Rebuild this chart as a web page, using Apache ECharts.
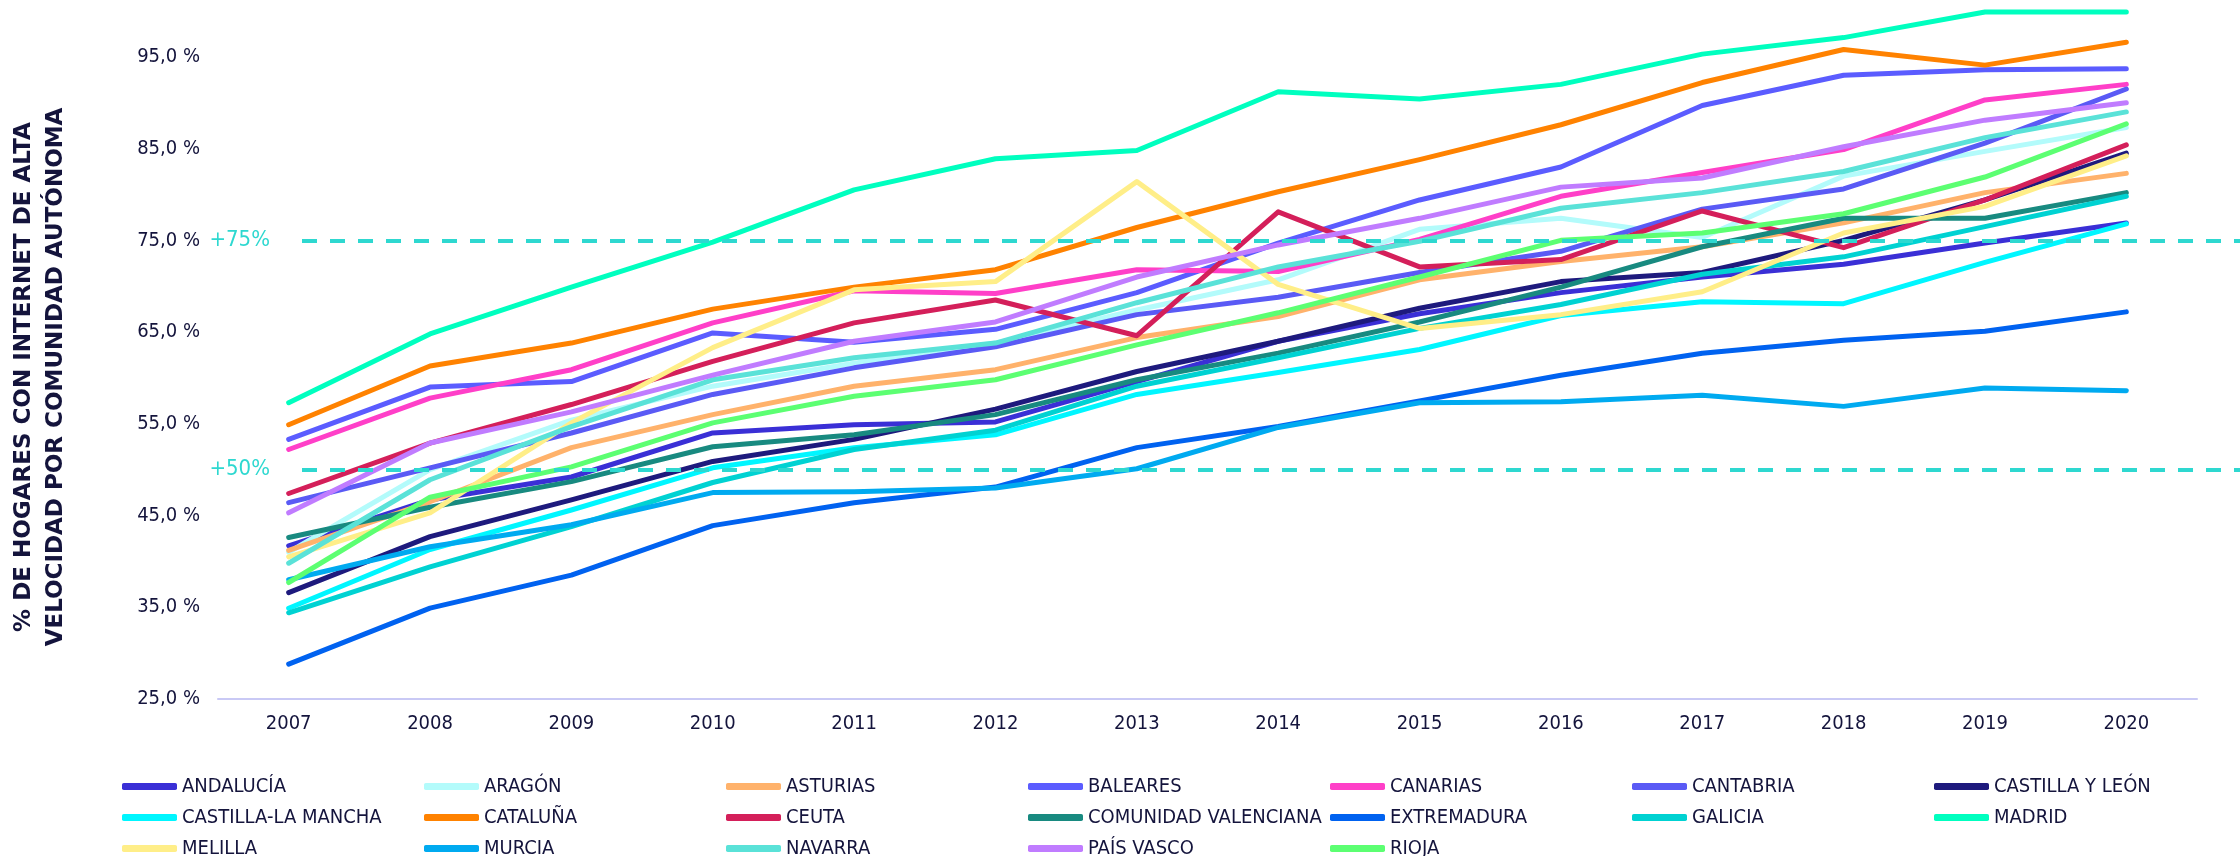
<!DOCTYPE html>
<html>
<head>
<meta charset="utf-8">
<script src="https://cdn.jsdelivr.net/npm/echarts/dist/echarts.min.js"></script>
<style>
    html, body { margin: 0; padding: 0; background: #fff; }
    #chart { width: 2240px; height: 856px; }
</style>
</head>
<body>
<div id="chart"></div>
<script>
// años
const years = ['2007', '2008', '2009', '2010', '2011', '2012', '2013', '2014', '2015', '2016', '2017', '2018', '2019', '2020']

// % hogares con internet de alta velocidad
const andalucia = [41.7, 46.7, 49.2, 54.0, 54.9, 55.2, 59.6, 64.0, 67.0, 69.3, 71.0, 72.4, 74.7, 76.9]
const aragon = [41.0, 50.0, 55.4, 59.1, 61.6, 63.8, 67.4, 70.7, 76.2, 77.4, 75.3, 82.0, 84.7, 87.3]
const asturias = [41.2, 46.5, 52.4, 56.0, 59.1, 60.9, 64.4, 66.7, 70.7, 72.7, 74.3, 76.9, 80.2, 82.3]
const baleares = [53.3, 59.0, 59.6, 64.9, 63.9, 65.3, 69.3, 74.7, 79.4, 83.0, 89.7, 93.0, 93.6, 93.7]
const canarias = [52.2, 57.8, 60.9, 66.0, 69.5, 69.2, 71.8, 71.6, 75.1, 79.8, 82.4, 84.9, 90.3, 92.0]
const cantabria = [46.4, 50.2, 54.0, 58.2, 61.1, 63.4, 66.9, 68.8, 71.5, 73.8, 78.4, 80.6, 85.6, 91.5]
const castillaLeon = [36.6, 42.7, 46.7, 50.9, 53.3, 56.6, 60.7, 64.0, 67.6, 70.5, 71.5, 75.0, 79.4, 84.5]
const castillaMancha = [34.9, 41.3, 45.6, 50.2, 52.4, 53.8, 58.2, 60.6, 63.1, 66.8, 68.3, 68.1, 72.6, 76.8]
const cataluna = [54.9, 61.3, 63.8, 67.5, 69.9, 71.8, 76.4, 80.3, 83.8, 87.6, 92.2, 95.8, 94.1, 96.6]
const ceuta = [47.4, 52.9, 57.1, 61.8, 66.0, 68.5, 64.6, 78.1, 72.1, 72.9, 78.2, 74.2, 79.4, 85.4]
const valenciana = [42.6, 45.9, 48.7, 52.5, 53.8, 56.0, 59.8, 62.7, 66.1, 69.9, 74.3, 77.4, 77.4, 80.2]
const extremadura = [28.8, 34.9, 38.5, 43.9, 46.4, 48.1, 52.4, 54.7, 57.5, 60.3, 62.7, 64.1, 65.1, 67.2]
const galicia = [34.4, 39.4, 43.8, 48.6, 52.2, 54.3, 59.1, 62.2, 65.4, 68.0, 71.3, 73.2, 76.5, 79.8]
const madrid = [57.3, 64.8, 69.9, 74.8, 80.5, 83.9, 84.8, 91.2, 90.4, 92.0, 95.3, 97.1, 99.9, 99.9]
const melilla = [40.5, 45.3, 55.1, 63.3, 69.6, 70.5, 81.4, 70.2, 65.4, 66.9, 69.4, 75.8, 78.7, 84.2]
const murcia = [38.0, 41.6, 44.0, 47.5, 47.6, 48.0, 50.1, 54.6, 57.3, 57.4, 58.1, 56.9, 58.9, 58.6]
const navarra = [39.8, 48.9, 54.7, 59.8, 62.2, 63.8, 68.2, 72.1, 74.9, 78.5, 80.2, 82.5, 86.2, 89.0]
const paisVasco = [45.3, 52.9, 56.3, 60.3, 64.0, 66.1, 71.0, 74.5, 77.4, 80.8, 81.8, 85.2, 88.1, 90.0]
const rioja = [37.7, 47.0, 50.3, 55.1, 58.0, 59.8, 63.6, 67.1, 71.0, 75.0, 75.8, 77.9, 81.9, 87.7]

const regionNames = ['ANDALUCÍA', 'ARAGÓN', 'ASTURIAS', 'BALEARES', 'CANARIAS', 'CANTABRIA', 'CASTILLA Y LEÓN',
    'CASTILLA-LA MANCHA', 'CATALUÑA', 'CEUTA', 'COMUNIDAD VALENCIANA', 'EXTREMADURA', 'GALICIA', 'MADRID',
    'MELILLA', 'MURCIA', 'NAVARRA', 'PAÍS VASCO', 'RIOJA']
const regionValues = [andalucia, aragon, asturias, baleares, canarias, cantabria, castillaLeon,
    castillaMancha, cataluna, ceuta, valenciana, extremadura, galicia, madrid,
    melilla, murcia, navarra, paisVasco, rioja]
const regionColors = ['#3a2fd6', '#b3fbfb', '#ffb26b', '#5b5cff', '#ff3fc8', '#5a5af5', '#1e1a7d',
    '#00f6ff', '#ff8200', '#d41f5a', '#188a80', '#0062f0', '#00d2d2', '#00ffbf',
    '#ffee88', '#00aaf0', '#5ae2d8', '#c07cff', '#5cff72']

// umbrales
const thresholds = [75, 50]

const ink = '#14143c'
const teal = '#2ed8d0'
const narrow = '"Liberation Sans Narrow", "DejaVu Sans Condensed", sans-serif'

let chart = echarts.init(document.getElementById('chart'))

let series = regionNames.map((name, i) => ({
    name: name,
    type: 'line',
    data: regionValues[i],
    showSymbol: false,
    symbol: 'none',
    color: regionColors[i],
    lineStyle: { width: 5, color: regionColors[i], cap: 'round', join: 'round' },
    emphasis: { disabled: true }
}))

// líneas de referencia (+75% / +50%), en una segunda rejilla que llega al borde
series.push({
    name: 'ref',
    type: 'line',
    xAxisIndex: 1,
    yAxisIndex: 1,
    data: [],
    silent: true,
    markLine: {
        silent: true,
        symbol: 'none',
        lineStyle: { type: [15, 13], color: teal, width: 4 },
        label: {
            position: 'start',
            distance: 32,
            color: teal,
            fontSize: 22,
            fontFamily: narrow,
            formatter: p => '+' + p.value + '%'
        },
        data: thresholds.map(v => ({ yAxis: v }))
    }
})

let option = {
    animation: false,
    backgroundColor: '#fff',
    grid: [
        { left: 218, right: 43, top: 11, bottom: 157 },
        { left: 302, right: 0, top: 11, bottom: 157 }
    ],
    xAxis: [
        {
            type: 'category',
            data: years,
            boundaryGap: true,
            axisLine: { lineStyle: { color: '#c9c9f5', width: 2 } },
            axisTick: { show: false },
            axisLabel: { color: ink, fontSize: 20, fontFamily: narrow, margin: 15 }
        },
        { type: 'value', gridIndex: 1, min: 0, max: 1, show: false }
    ],
    yAxis: [
        {
            type: 'value',
            min: 25,
            max: 100,
            interval: 10,
            splitLine: { show: false },
            axisLine: { show: false },
            axisTick: { show: false },
            axisLabel: {
                color: ink,
                fontSize: 20,
                fontFamily: narrow,
                margin: 18,
                showMaxLabel: false,
                formatter: v => v.toFixed(1).replace('.', ',') + ' %'
            },
            name: '% DE HOGARES CON INTERNET DE ALTA\nVELOCIDAD POR COMUNIDAD AUTÓNOMA',
            nameLocation: 'middle',
            nameRotate: 90,
            nameGap: 146,
            nameTextStyle: {
                color: ink,
                fontSize: 23,
                fontWeight: 'bold',
                fontFamily: 'DejaVu Sans',
                lineHeight: 32,
                padding: [0, 44, 0, 0]
            }
        },
        { type: 'value', gridIndex: 1, min: 25, max: 100, show: false }
    ],
    legend: {
        data: regionNames,
        left: 117,
        top: 769,
        width: 2120,
        itemWidth: 55,
        itemHeight: 7,
        itemGap: 6,
        icon: 'roundRect',
        textStyle: {
            color: ink,
            fontSize: 20,
            fontFamily: narrow,
            width: 236,
            lineHeight: 25,
            overflow: 'truncate'
        }
    },
    series: series
}

chart.setOption(option)
</script>
</body>
</html>
